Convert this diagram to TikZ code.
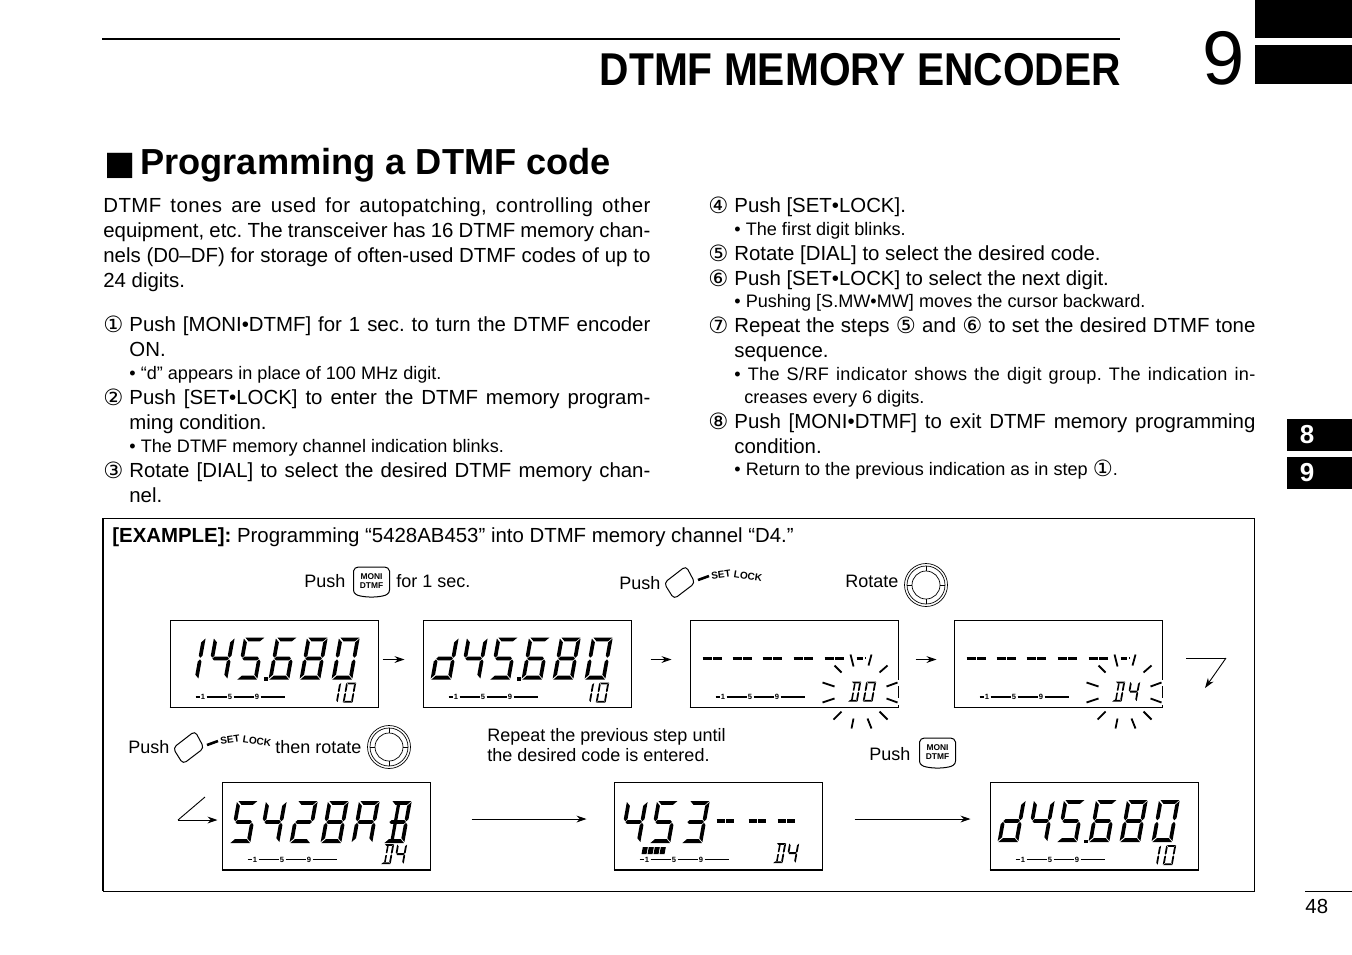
\documentclass[tikz,border=0pt]{standalone}
\usepackage{fontspec}
\setmainfont{Liberation Sans}
\newfontfamily\symfont{DejaVu Sans}
\usetikzlibrary{arrows.meta}

% LCD segments, local box 21 x 42
\newcommand\sega{\fill (1,0)--(21.5,0)--(17.3,3.8)--(5,3.8)--cycle;}
\newcommand\segb{\fill (21.8,1)--(21.8,18)--(19.8,20.2)--(17.8,18)--(17.8,4.8)--cycle;}
\newcommand\segc{\fill (21.8,24)--(19.8,21.8)--(17.8,24)--(17.8,37.2)--(21.8,41)--cycle;}
\newcommand\segd{\fill (0.5,42)--(4.5,38.2)--(17.5,38.2)--(21.5,42)--cycle;}
\newcommand\sege{\fill (-0.5,24)--(1.5,21.8)--(3.5,24)--(3.5,37.2)--(-0.5,41)--cycle;}
\newcommand\segf{\fill (-0.5,1)--(3.5,4.8)--(3.5,18)--(1.5,20.2)--(-0.5,18)--cycle;}
\newcommand\segg{\fill (1.8,21)--(3.8,19.1)--(17.6,19.1)--(19.6,21)--(17.6,22.9)--(3.8,22.9)--cycle;}
\newcommand\segh{\fill (6.5,3.8)--(10,3.8)--(10,19.1)--(6.5,19.1)--cycle;}
\newcommand\segi{\fill (6.5,22.9)--(10,22.9)--(10,38.2)--(6.5,38.2)--cycle;}

\newcommand\gzero{\sega\segb\segc\segd\sege\segf}
\newcommand\gone{\segb\segc}
\newcommand\gtwo{\sega\segb\segg\sege\segd}
\newcommand\gthree{\sega\segb\segg\segc\segd}
\newcommand\gfour{\segf\segg\segb\segc}
\newcommand\gfive{\sega\segf\segg\segc\segd}
\newcommand\gsix{\sega\segf\segg\segc\segd\sege}
\newcommand\geight{\sega\segb\segc\segd\sege\segf\segg}
\newcommand\gA{\sega\segb\segc\sege\segf\segg}
\newcommand\gB{\sega\segb\segc\segd\segg\segh\segi}
\newcommand\gD{\sega\segb\segc\segd\segh\segi}
\newcommand\gd{\segb\segc\segd\sege\segg}

\newcommand\lcddigit[4]{\begin{scope}[shift={(#1,#2)},xslant=.18,xscale=.93,scale=#3]#4\end{scope}}

% 45.680 row, first digit in #1
\newcommand\lcdfreq[1]{
\foreach \px/\dg in {16/#1,45/\gfour,75/\gfive,107/\gsix,138/\geight,170/\gzero}{
	\lcddigit{\px}{18}{1}{\dg}}
\fill (94.5,57.5) rectangle (98.5,61);
\lcddigit{162}{63}{.48}{\gone}
\lcddigit{177}{63}{.48}{\gzero}
}

% tuning scale under the digits
\newcommand\lcdbar[1]{
\draw[barline] (26,77.5)--(30,77.5);
\node[barnum] (#1one) at (33.5,77.5){1};
\draw[barline] (37,77.5)--(57,77.5);
\node[barnum] (#1five) at (60.5,77.5){5};
\draw[barline] (64,77.5)--(84,77.5);
\node[barnum] (#1nine) at (87.5,77.5){9};
\draw[barline] (91,77.5)--(115,77.5);
}

% blinking channel
\newcommand\lcdrays{
\draw[white,line width=1pt] (208,60.5)--(208,66.5);
\draw[white,line width=1pt] (208,78.5)--(208,85.5);
\foreach \xa/\ya/\xb/\yb in {161/35/164/47,182/35/179/46,145/46/152/53,198/46/190/53,
	133/63/145/67,208/63/197/67,133/83/145/79,208/83/197/79,
	144/100/152/92,198/100/190/92,162/109/164/99,182/109/178/99}{
	\draw[rayline] (\xa,\ya)--(\xb,\yb);}
\draw[dashbar] (167,39)--(173,39);
\fill (175,37) rectangle (176.5,39);
\foreach \px in {13,43,73,104,135}{
	\draw[dashbar] (\px,39)--++(9,0);
	\draw[dashbar] (\px+10.5,39)--++(9,0);}
}

\newcommand\monikey[3]{
\draw[keyline] (#2-18,#3-11) to[out=80,in=180] (#2-13,#3-15)--(#2+13,#3-15) to[out=0,in=100] (#2+18,#3-11)--(#2+18,#3+8)
	to[out=-90,in=10] (#2+11,#3+14) to[out=-170,in=-10] (#2-11,#3+14) to[out=170,in=-90] (#2-18,#3+8)--cycle;
\node[keytext] (#1) at (#2,#3-1){MONI\\[-.4pt]DTMF};
}

\newcommand\setkey[3]{
\draw[keyline,rounded corners=2pt] (#2-1,#3+1)--(#2+21,#3-16)--(#2+30,#3+1)--(#2+9,#3+17)--cycle;
\draw[line width=1.3pt] (#2+33,#3-2)--(#2+44,#3-6);
\node[locktext,rotate=8] (#1set) at (#2+56,#3-7){SET};
\node[locktext,rotate=-9] (#1lock) at (#2+83,#3-6){LOCK};
}

\newcommand\dialknob[2]{
\draw[dialline] (#1,#2) circle (21.5);
\draw[dialline] (#1,#2) circle (19);
\draw[dialline] (#1,#2) circle (14);
\foreach \ang in {0,90,180,270}{
	\draw[dialline] (#1,#2)++(\ang:14)--++(\ang:5);}
}

\tikzset{
	bodytext/.style={anchor=base west,inner sep=0pt,font=\fontsize{10.2}{12}\selectfont\frenchspacing},
	smalltext/.style={anchor=base west,inner sep=0pt,font=\fontsize{9.05}{10}\selectfont\frenchspacing},
	labeltext/.style={anchor=base west,inner sep=0pt,font=\fontsize{9}{11}\selectfont},
	lcdbox/.style={draw,line width=.5pt,inner sep=0pt,minimum width=104pt,minimum height=43.5pt},
	barnum/.style={inner sep=0pt,font=\fontsize{3.8}{4}\selectfont\bfseries},
	barline/.style={line width=.6pt},
	rayline/.style={line width=.9pt},
	dashbar/.style={line width=1.9pt},
	keyline/.style={line width=.5pt},
	dialline/.style={line width=.35pt},
	keytext/.style={inner sep=0pt,align=center,font=\fontsize{4.2}{5}\selectfont\bfseries},
	locktext/.style={inner sep=0pt,font=\fontsize{5}{6}\selectfont\bfseries},
	tabbox/.style={fill=black,inner sep=0pt,minimum width=32.5pt,minimum height=16pt},
	tabnum/.style={text=white,inner sep=0pt,font=\fontsize{13}{15}\selectfont\bfseries},
	stepline/.style={-{Stealth[length=5pt,width=3.4pt]},line width=.45pt},
}
\newcommand\fitline[2]{\makebox[#1][s]{#2}}
\newcommand\cnum[1]{\raisebox{-.7pt}{\fontsize{11.2}{12}\selectfont\symfont #1}}

\begin{document}
\begin{tikzpicture}[x=.5pt,y=-.5pt]
\useasboundingbox (0,0) rectangle (1352,954);

% page head
\fill (1255,0) rectangle (1352,38);
\fill (1255,45) rectangle (1352,84);
\draw[line width=1.4pt] (102,39)--(1120,39);
\node[anchor=base east,inner sep=0pt,xscale=.885,font=\fontsize{23}{28}\selectfont\bfseries] (chaptitle) at (1121,85){DTMF MEMORY ENCODER};
\node[anchor=base west,inner sep=0pt,font=\fontsize{38}{44}\selectfont] (chapnum) at (1202,84){9};
\node[anchor=base west,inner sep=0pt,font=\fontsize{16.5}{22}\selectfont\symfont] (headmark) at (104,174){■};
\node[anchor=base west,inner sep=0pt,font=\fontsize{18.1}{22}\selectfont\bfseries] (headtext) at (140,174){Programming a DTMF code};

% left column
\node[bodytext] (introA) at (103,212){\fitline{273.5pt}{\addfontfeature{LetterSpace=2}DTMF tones are used for autopatching, controlling other}};
\node[bodytext] (introB) at (103,237){\fitline{273.5pt}{equipment, etc. The transceiver has 16 DTMF memory chan-}};
\node[bodytext] (introC) at (103,262){\fitline{273.5pt}{nels (D0–DF) for storage of often-used DTMF codes of up to}};
\node[bodytext] (introD) at (103,287){24 digits.};

\node[bodytext] (numA) at (103,331){\cnum{①}};
\node[bodytext] (stepA) at (129,331){\fitline{260.5pt}{Push [MONI•DTMF] for 1 sec. to turn the DTMF encoder}};
\node[bodytext] (stepAb) at (129,356){ON.};
\node[smalltext] (noteA) at (129,379){• “d” appears in place of 100 MHz digit.};
\node[bodytext] (numB) at (103,404){\cnum{②}};
\node[bodytext] (stepB) at (129,404){\fitline{260.5pt}{Push [SET•LOCK] to enter the DTMF memory program-}};
\node[bodytext] (stepBb) at (129,429){ming condition.};
\node[smalltext] (noteB) at (129,452){• The DTMF memory channel indication blinks.};
\node[bodytext] (numC) at (103,477){\cnum{③}};
\node[bodytext] (stepC) at (129,477){\fitline{260.5pt}{Rotate [DIAL] to select the desired DTMF memory chan-}};
\node[bodytext] (stepCb) at (129,502){nel.};

% right column
\node[bodytext] (numD) at (708,212){\cnum{④}};
\node[bodytext] (stepD) at (734,212){Push [SET•LOCK].};
\node[smalltext] (noteD) at (734,235){• The first digit blinks.};
\node[bodytext] (numE) at (708,260){\cnum{⑤}};
\node[bodytext] (stepE) at (734,260){Rotate [DIAL] to select the desired code.};
\node[bodytext] (numF) at (708,285){\cnum{⑥}};
\node[bodytext] (stepF) at (734,285){Push [SET•LOCK] to select the next digit.};
\node[smalltext] (noteF) at (734,307){• Pushing [S.MW•MW] moves the cursor backward.};
\node[bodytext] (numG) at (708,332){\cnum{⑦}};
\node[bodytext] (stepG) at (734,332){\fitline{260.5pt}{Repeat the steps \cnum{⑤} and \cnum{⑥} to set the desired DTMF tone}};
\node[bodytext] (stepGb) at (734,357){sequence.};
\node[smalltext] (noteG) at (734,380){\fitline{260.5pt}{\addfontfeature{LetterSpace=2}• The S/RF indicator shows the digit group. The indication in-}};
\node[smalltext] (noteGb) at (744,403){creases every 6 digits.};
\node[bodytext] (numH) at (708,428){\cnum{⑧}};
\node[bodytext] (stepH) at (734,428){\fitline{260.5pt}{Push [MONI•DTMF] to exit DTMF memory programming}};
\node[bodytext] (stepHb) at (734,453){condition.};
\node[smalltext] (noteH) at (734,475){• Return to the previous indication as in step \cnum{①}.};

% side tabs and page number
\node[tabbox] (tabE) at (1319.5,435){};
\node[tabbox] (tabN) at (1319.5,473){};
\node[tabnum] (tabEnum) at (1307,435){8};
\node[tabnum] (tabNnum) at (1307,473){9};
\draw[line width=.4pt] (1305,891)--(1352,891);
\node[bodytext] (pagenum) at (1305,913){48};

% example frame
\draw[line width=.5pt] (103,518) rectangle (1254,891);
\draw[line width=.9pt] (103,518)--(103,891);
\node[bodytext] (extitle) at (112,542){\textbf{[EXAMPLE]:} Programming “5428AB453” into DTMF memory channel “D4.”};

% upper row captions
\node[labeltext] (pushA) at (304,587){Push};
\monikey{keyA}{371.5}{582}
\node[labeltext] (pushAb) at (396,587){for 1 sec.};
\node[labeltext] (pushB) at (619,589){Push};
\setkey{keyB}{665}{582}
\node[labeltext] (rotA) at (845,587){Rotate};
\dialknob{926}{585}

% upper row displays
\node[lcdbox] (lcdA) at (274,663.5){};
\node[lcdbox] (lcdB) at (527,663.5){};
\node[lcdbox] (lcdC) at (794,663.5){};
\node[lcdbox] (lcdD) at (1058,663.5){};
\begin{scope}[shift={(lcdA.north west)}]
\lcdfreq{\gone}
\lcdbar{lcdA}
\end{scope}
\begin{scope}[shift={(lcdB.north west)}]
\lcdfreq{\gd}
\lcdbar{lcdB}
\end{scope}
\begin{scope}[shift={(lcdC.north west)}]
\lcdrays
\lcdbar{lcdC}
\lcddigit{162}{62}{.48}{\gD}
\lcddigit{177}{62}{.48}{\gzero}
\end{scope}
\begin{scope}[shift={(lcdD.north west)}]
\lcdrays
\lcdbar{lcdD}
\lcddigit{162}{62}{.48}{\gD}
\lcddigit{177}{62}{.48}{\gfour}
\end{scope}

\draw[stepline,shorten <=2pt,shorten >=9pt] ([yshift=2pt]lcdA.east)--([yshift=2pt]lcdB.west);
\draw[stepline,shorten <=9.5pt,shorten >=9pt] ([yshift=2pt]lcdB.east)--([yshift=2pt]lcdC.west);
\draw[stepline,shorten <=8.5pt,shorten >=8.5pt] ([yshift=2pt]lcdC.east)--([yshift=2pt]lcdD.west);

\coordinate (turnA) at (1186,658);
\coordinate (turnB) at (1226,658);
\coordinate (turnC) at (1205,688);
\draw[line width=.45pt] (turnA)--(turnB);
\draw[stepline] (turnB)--(turnC);

% lower row captions
\node[labeltext] (pushC) at (128,753){Push};
\setkey{keyC}{174}{747}
\node[labeltext] (rotB) at (275,753){then rotate};
\dialknob{389}{747}
\node[labeltext] (repeatA) at (487,741){Repeat the previous step until};
\node[labeltext] (repeatB) at (487,761){the desired code is entered.};
\node[labeltext] (pushD) at (869,760){Push};
\monikey{keyD}{937.5}{753}

% lower row displays
\node[lcdbox] (lcdE) at (326,826){};
\node[lcdbox] (lcdF) at (718,826){};
\node[lcdbox] (lcdG) at (1094,826){};
\begin{scope}[shift={(lcdE.north west)}]
\foreach \px/\dg in {16/\gfive,45/\gfour,76/\gtwo,107/\geight,138/\gA,170/\gB}{
	\lcddigit{\px}{19}{1}{\dg}}
\lcdbar{lcdE}
\lcddigit{163}{62}{.48}{\gD}
\lcddigit{176}{62}{.48}{\gfour}
\end{scope}
\begin{scope}[shift={(lcdF.north west)}]
\foreach \px/\dg in {14/\gfour,44/\gfive,76/\gthree}{
	\lcddigit{\px}{19}{1}{\dg}}
\foreach \px in {103,135,164}{
	\draw[dashbar] (\px,39)--++(8,0);
	\draw[dashbar] (\px+9.5,39)--++(8,0);}
\begin{scope}[xslant=.18]
\foreach \px in {41,47,53,59}{
	\fill (\px,65) rectangle (\px+5,72);}
\end{scope}
\lcdbar{lcdF}
\lcddigit{163}{61}{.48}{\gD}
\lcddigit{176}{61}{.48}{\gfour}
\end{scope}
\begin{scope}[shift={(lcdG.north west)}]
\lcdfreq{\gd}
\lcdbar{lcdG}
\end{scope}

\foreach \lcd in {lcdA,lcdB,lcdC,lcdD,lcdE,lcdF,lcdG}{
	\draw[line width=.9pt] (\lcd.south west)--(\lcd.south east);}

\coordinate (returnA) at (205,797);
\coordinate (returnB) at (178,820);
\draw[line width=.45pt] (returnA)--(returnB);
\draw[stepline,shorten >=2pt] (returnB)--(lcdE.west|-returnB);
\draw[stepline,shorten <=20.5pt,shorten >=13.5pt] ([yshift=3.5pt]lcdE.east)--([yshift=3.5pt]lcdF.west);
\draw[stepline,shorten <=16pt,shorten >=9.5pt] ([yshift=3.5pt]lcdF.east)--([yshift=3.5pt]lcdG.west);
\end{tikzpicture}
\end{document}
